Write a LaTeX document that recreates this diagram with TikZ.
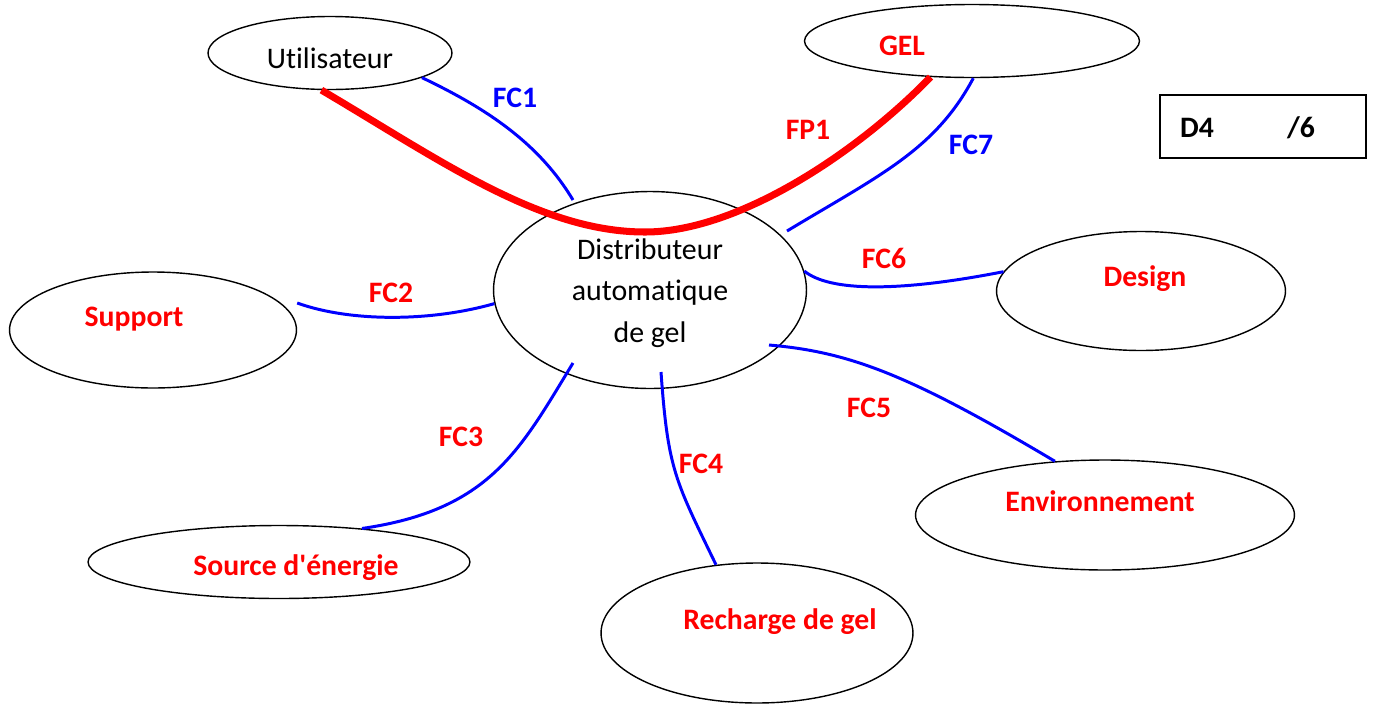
\documentclass[tikz,border=0pt]{standalone}
\usepackage{fontspec}
\setmainfont{Carlito}[Ligatures={NoCommon}]
\usepackage{tikz}
\usetikzlibrary{shapes.geometric}
\definecolor{fcblue}{RGB}{0,0,255}
\definecolor{fcred}{RGB}{255,0,0}

\begin{document}
\begin{tikzpicture}[x=0.02cm,y=-0.02cm,
    bulle/.style={ellipse, draw=black, line width=0.8pt, inner sep=0pt},
    fc/.style={draw=fcblue, line width=1.7pt},
    fp/.style={draw=fcred, line width=4pt},
    txt/.style={font=\fontsize{17}{23.6}\selectfont, inner sep=0pt, align=center},
    lab/.style={font=\fontsize{16.9}{20}\selectfont\bfseries, inner sep=0pt}]
    \useasboundingbox (0,0) rectangle (1373,707);
    % milieux exterieurs
    \node[bulle, minimum width=4.88cm, minimum height=1.46cm] (util) at (330,53) {};
    \node[bulle, minimum width=6.7cm, minimum height=1.46cm] (gel) at (972,41) {};
    \node[bulle, minimum width=6.26cm, minimum height=3.94cm] (dist) at (650,290) {};
    \node[bulle, minimum width=5.74cm, minimum height=2.32cm] (supp) at (153,330) {};
    \node[bulle, minimum width=7.64cm, minimum height=1.46cm] (src) at (279,562) {};
    \node[bulle, minimum width=6.24cm, minimum height=2.8cm] (rech) at (757,633) {};
    \node[bulle, minimum width=7.58cm, minimum height=2.2cm] (env) at (1105,515) {};
    \node[bulle, minimum width=5.78cm, minimum height=2.38cm] (des) at (1141,291) {};
    \node[draw=black, line width=0.9pt, minimum width=4.12cm, minimum height=1.26cm] (note) at (1263,126.5) {};
    % textes
    \node[txt] (utilT) at (330,58) {Utilisateur};
    \node[txt] (distT) at (650,293) {Distributeur\\automatique\\de gel};
    \node[lab, text=fcred] (gelT) at (902,46) {GEL};
    \node[lab, text=fcred] (suppT) at (134,319) {Support};
    \node[lab, text=fcred] (srcT) at (296,568) {Source d\textquotesingle énergie};
    \node[lab, text=fcred] (rechT) at (780,622) {Recharge de gel};
    \node[lab, text=fcred] (envT) at (1100,501) {Environnement};
    \node[lab, text=fcred] (desT) at (1145,279) {Design};
    \node[lab] (noteA) at (1197,128) {D4};
    \node[lab] (noteB) at (1301,128) {/6};
    % fonctions
    \coordinate (creux) at (645,232);
    \draw[fc] (util.-15) .. controls (490,110) and (540,145) .. ([shift={(-77,-90)}]dist.center);
    \draw[fc] (gel.-88) .. controls (935,150) and (880,175) .. ([shift={(137,-59)}]dist.center);
    \draw[fc] (dist.7) .. controls (830,292) and (900,292) .. (des.172);
    \draw[fc] ([yshift=0.54cm]supp.east) .. controls (350,322) and (430,322) .. (dist.185);
    \draw[fc] ([shift={(-77,73)}]dist.center) .. controls (520,450) and (490,510) .. (src.22);
    \draw[fc] ([shift={(11,82)}]dist.center) .. controls (668,470) and (675,480) .. (rech.121);
    \draw[fc] ([shift={(119,55)}]dist.center) .. controls (850,352) and (910,375) .. (env.133);
    \draw[fp] (util.-103) .. controls (440,160) and (540,232) .. (creux)
        .. controls (740,232) and (860,150) .. (gel.-139);
    \node[lab, text=fcblue] (fc1) at (515,98) {FC1};
    \node[lab, text=fcred] (fp1) at (808,130) {FP1};
    \node[lab, text=fcblue] (fc7) at (971,145) {FC7};
    \node[lab, text=fcred] (fc6) at (884,258) {FC6};
    \node[lab, text=fcred] (fc2) at (391,293) {FC2};
    \node[lab, text=fcred] (fc3) at (461,437) {FC3};
    \node[lab, text=fcred] (fc4) at (701,464) {FC4};
    \node[lab, text=fcred] (fc5) at (869,408) {FC5};
\end{tikzpicture}
\end{document}
